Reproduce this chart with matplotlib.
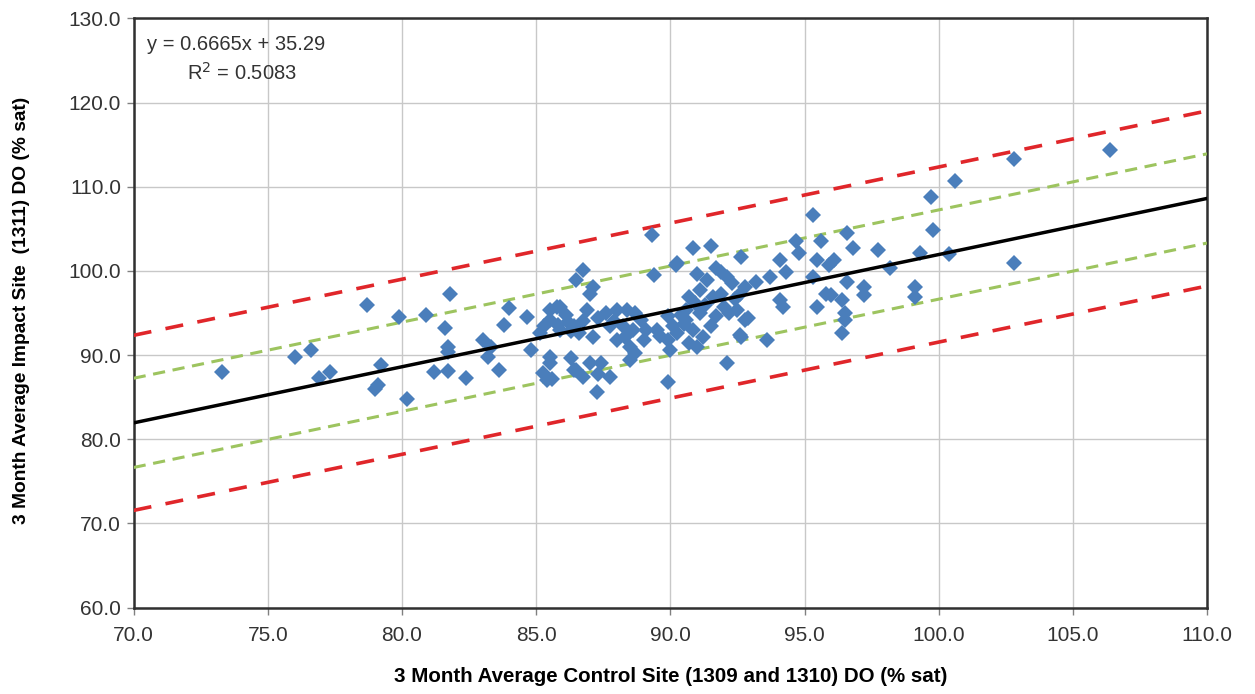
import matplotlib
matplotlib.use("Agg")
import matplotlib.pyplot as plt
import numpy as np

# ---- data ----
control_do = [
    73.3, 76.0, 76.6, 76.9, 77.3, 78.7, 79.0, 79.1, 79.2, 79.9,
    80.2, 80.9, 81.2, 81.6, 81.7, 81.7, 81.7, 81.8, 82.4, 83.0,
    83.2, 83.3, 83.6, 83.8, 84.0, 84.65, 84.8, 85.14, 85.5, 85.76,
    85.25, 85.6, 85.5, 85.5, 86.3, 86.4, 86.75, 87.0, 87.4, 87.75,
    87.25, 88.5, 88.7, 88.5, 85.4, 86.5, 89.9,
    85.5, 85.9, 86.1, 85.3, 85.8, 86.75, 86.6, 87.1, 87.6, 88.0,
    88.4, 88.7, 87.75, 88.25, 88.6, 89.1, 88.0, 89.0, 89.9, 90.1,
    89.9, 90.0, 90.6, 86.75, 86.5, 87.1, 87.0, 89.3, 89.4, 90.2,
    86.4, 87.3,
    95.3, 94.7, 94.8, 95.6, 95.45, 95.3, 95.45, 95.8, 90.85, 91.5,
    92.65, 94.1, 94.3, 93.7, 93.2, 92.8, 94.1, 94.2, 93.6, 92.6,
    92.1, 92.9, 92.5, 91.7, 92.1, 92.3, 92.6, 91.35, 91.1, 90.7,
    91.6, 92.0, 92.2, 90.6, 91.1, 90.85, 91.2, 90.7, 90.25, 91.5,
    91.7, 90.25, 91.0, 92.8, 92.65,
    100.6, 99.7, 99.8, 100.4, 99.3, 99.1, 99.1, 98.2, 97.75, 96.6,
    96.8, 96.1, 95.9, 96.6, 97.2, 97.2, 96.0, 96.4, 96.5, 96.5,
    96.4, 102.8, 102.8, 106.4,
    85.9, 86.2, 86.9, 87.3, 87.9, 88.9, 89.5, 89.6, 90.4, 90.9,
    91.3, 91.9, 92.4, 91.0, 91.9, 90.5, 86.3, 88.3,
]
impact_do = [
    88.0, 89.8, 90.6, 87.3, 88.0, 96.0, 86.0, 86.4, 88.8, 94.5,
    84.8, 94.7, 88.0, 93.2, 91.0, 90.4, 88.1, 97.2, 87.3, 91.8,
    89.8, 91.0, 88.2, 93.6, 95.6, 94.55, 90.6, 92.6, 94.2, 95.75,
    87.9, 87.1, 89.0, 89.8, 89.6, 88.2, 87.4, 89.0, 89.0, 87.4,
    85.65, 89.4, 90.2, 91.0, 87.0, 88.2, 86.8,
    95.4, 95.7, 94.8, 93.4, 93.6, 94.0, 92.6, 92.2, 95.0, 95.4,
    95.4, 95.0, 93.4, 93.4, 93.0, 93.0, 91.8, 91.8, 94.6, 93.4,
    91.8, 90.6, 95.4, 100.1, 98.9, 98.1, 97.3, 104.3, 99.5, 100.7,
    93.4, 87.8,
    106.6, 103.5, 102.1, 103.5, 101.3, 99.3, 95.75, 97.3, 102.7, 102.9,
    101.7, 101.3, 99.9, 99.3, 98.7, 98.1, 96.5, 95.75, 91.8, 92.4,
    89.0, 94.4, 95.4, 100.3, 99.3, 98.5, 97.3, 98.9, 97.7, 96.9,
    96.9, 95.75, 95.0, 94.2, 95.0, 93.0, 92.2, 91.4, 92.6, 93.4,
    94.6, 100.9, 91.0, 94.2, 92.2,
    110.7, 108.8, 104.9, 102.0, 102.1, 98.1, 96.9, 100.4, 102.5, 104.5,
    102.7, 101.3, 100.7, 98.7, 98.1, 97.1, 97.1, 96.5, 95.0, 94.2,
    92.6, 100.9, 113.25, 114.3,
    93.0, 93.9, 95.3, 94.4, 94.0, 94.2, 93.0, 92.3, 94.8, 96.2,
    96.0, 97.2, 96.6, 99.6, 99.9, 93.7, 92.9, 92.1,
]
slope = 0.6665
intercept = 35.29
inner_band = 5.3    # green dashed band half-width
outer_band = 10.4   # red dashed band half-width
x_ticks = [70.0, 75.0, 80.0, 85.0, 90.0, 95.0, 100.0, 105.0, 110.0]
y_ticks = [60.0, 70.0, 80.0, 90.0, 100.0, 110.0, 120.0, 130.0]

plt.rcParams['font.family'] = ['Liberation Sans', 'DejaVu Sans']

fig = plt.figure(figsize=(12.55, 6.94), dpi=100)
ax = fig.add_axes([0.1065, 0.1245, 0.8553, 0.8491])

xl = np.array([x_ticks[0], x_ticks[-1]])
fit = slope * xl + intercept

ax.plot(xl, fit + outer_band, color='#E0262A', lw=2.6, dashes=(5, 4), zorder=3)
ax.plot(xl, fit - outer_band, color='#E0262A', lw=2.6, dashes=(5, 4), zorder=3)
ax.plot(xl, fit + inner_band, color='#9DC45F', lw=2.2, dashes=(4, 2.5), zorder=3)
ax.plot(xl, fit - inner_band, color='#9DC45F', lw=2.2, dashes=(4, 2.5), zorder=3)
ax.plot(control_do, impact_do, linestyle='none', marker='D', ms=8,
        color='#4A7EBB', markeredgewidth=0, zorder=4)
ax.plot(xl, fit, color='black', lw=2.5, zorder=5)

ax.set_xlim(x_ticks[0], x_ticks[-1])
ax.set_ylim(y_ticks[0], y_ticks[-1])
ax.set_xticks(x_ticks)
ax.set_yticks(y_ticks)
ax.set_xticklabels([f"{v:.1f}" for v in x_ticks])
ax.set_yticklabels([f"{v:.1f}" for v in y_ticks])
ax.tick_params(axis='both', labelsize=15, color='#808080', length=5, width=1,
               labelcolor='#333333')
ax.tick_params(axis='x', pad=8)
ax.tick_params(axis='y', pad=4)
ax.grid(True, color='#C8C8C8', lw=1)
ax.set_axisbelow(True)
for s in ax.spines.values():
    s.set_color('#303030')
    s.set_linewidth(1.8)

ax.set_xlabel('3 Month Average Control Site (1309 and 1310) DO (% sat)',
              fontsize=14.8, fontweight='bold')
ax.set_ylabel('3 Month Average Impact Site  (1311) DO (% sat)',
              fontsize=13.8, fontweight='bold')
ax.xaxis.set_label_coords(0.5, -0.100)
ax.yaxis.set_label_coords(-0.097, 0.505)

ax.text(0.012, 0.955, 'y = 0.6665x + 35.29', transform=ax.transAxes,
        fontsize=14.5, color='#333333', va='center', ha='left')
ax.text(0.050, 0.908, 'R$^2$ = 0.5083', transform=ax.transAxes,
        fontsize=14.5, color='#333333', va='center', ha='left')

fig.savefig('out.png', dpi=100)
